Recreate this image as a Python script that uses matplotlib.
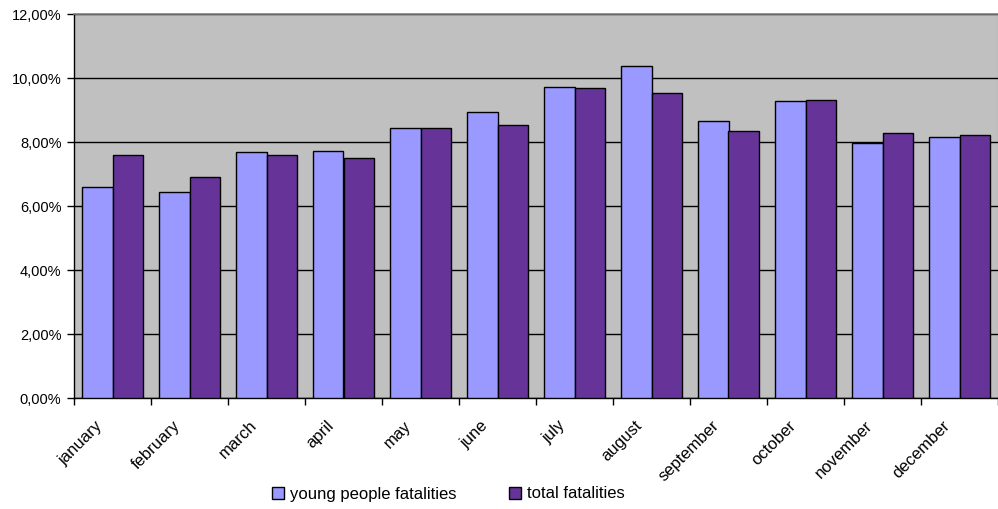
import matplotlib
matplotlib.use("Agg")
import matplotlib.pyplot as plt
from matplotlib.ticker import FuncFormatter, MultipleLocator
import numpy as np

plt.rcParams['font.family'] = ['Liberation Sans', 'DejaVu Sans']

months = ["january", "february", "march", "april", "may", "june",
          "july", "august", "september", "october", "november", "december"]
young_people = [6.59, 6.44, 7.69, 7.73, 8.43, 8.95, 9.72, 10.38, 8.65, 9.28, 7.98, 8.17]
total = [7.59, 6.92, 7.59, 7.51, 8.43, 8.54, 9.68, 9.53, 8.36, 9.32, 8.28, 8.21]
series_names = ["young people fatalities", "total fatalities"]

fig = plt.figure(figsize=(9.98, 5.09), dpi=100)
ax = fig.add_axes([74 / 998, 1 - 398.3 / 509, 924 / 998, (398.3 - 14) / 509])
ax.set_facecolor("#C0C0C0")

x = np.arange(len(months))
w = 0.4
b1 = ax.bar(x - w / 2, young_people, w, color="#9999FF", edgecolor="black",
            linewidth=1, label=series_names[0], zorder=3)
b2 = ax.bar(x + w / 2, total, w, color="#663399", edgecolor="black",
            linewidth=1, label=series_names[1], zorder=3)

ax.set_xlim(-0.5, len(months) - 0.5)
ax.set_ylim(0, 12)
ax.yaxis.set_major_locator(MultipleLocator(2))
ax.yaxis.set_major_formatter(FuncFormatter(lambda v, _: f"{v:.2f}%".replace(".", ",")))
ax.grid(axis="y", color="black", linewidth=1, zorder=1)
ax.set_axisbelow(True)

# category ticks sit on the boundaries between months; names are drawn separately
ax.set_xticks([])
ax.set_xticks(np.arange(len(months) + 1) - 0.5, minor=True)
ax.tick_params(axis="x", which="minor", length=5, width=1, direction="out", color="black")
ax.tick_params(axis="y", length=5, width=1, direction="out", labelsize=10.5, pad=4)
for i, name in enumerate(months):
    ax.annotate(name, xy=(i, 0), xycoords=ax.get_xaxis_transform(),
                xytext=(-12, -25), textcoords="offset pixels",
                rotation=45, rotation_mode="anchor", ha="right", va="center",
                fontsize=12, annotation_clip=False)

for side in ["left", "bottom"]:
    ax.spines[side].set_color("black")
    ax.spines[side].set_linewidth(1)
ax.spines["top"].set_color("#808080")
ax.spines["top"].set_linewidth(1.2)
ax.spines["right"].set_color("#808080")

fig.legend(handles=[b1, b2], labels=series_names, loc="center",
           bbox_to_anchor=(448.5 / 998, 1 - 494 / 509), ncol=2, frameon=False,
           fontsize=12, handlelength=0.72, handleheight=0.72, handletextpad=0.35,
           columnspacing=3.15)

fig.savefig("out.png", dpi=100)
